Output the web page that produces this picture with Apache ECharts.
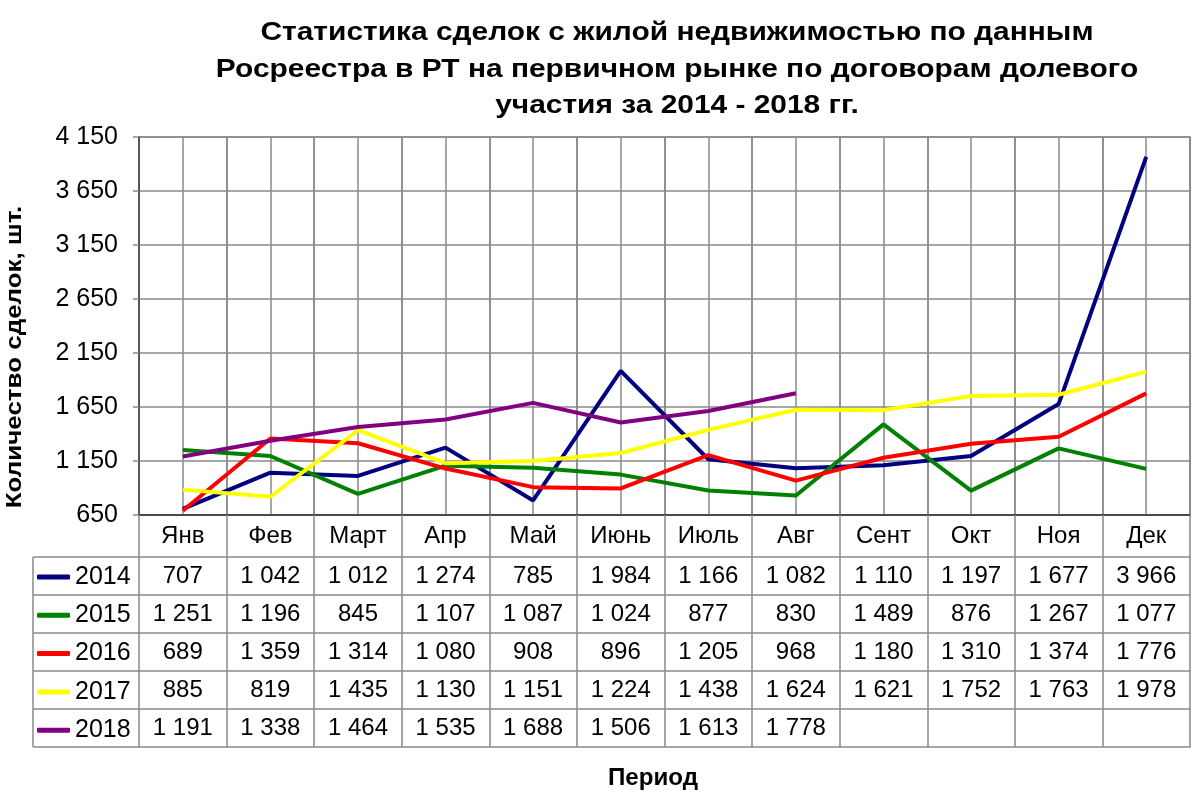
<!DOCTYPE html>
<html>
<head>
<meta charset="utf-8">
<script src="https://cdn.jsdelivr.net/npm/echarts@6/dist/echarts.min.js"></script>
<style>html,body{margin:0;padding:0;background:#fff}#c{width:1200px;height:803px}</style>
</head>
<body>
<div id="c"></div>
<script>
const months = ['Янв','Фев','Март','Апр','Май','Июнь','Июль','Авг','Сент','Окт','Ноя','Дек'];
const years = ['2014','2015','2016','2017','2018'];
const s2014 = [707,1042,1012,1274,785,1984,1166,1082,1110,1197,1677,3966];
const s2015 = [1251,1196,845,1107,1087,1024,877,830,1489,876,1267,1077];
const s2016 = [689,1359,1314,1080,908,896,1205,968,1180,1310,1374,1776];
const s2017 = [885,819,1435,1130,1151,1224,1438,1624,1621,1752,1763,1978];
const s2018 = [1191,1338,1464,1535,1688,1506,1613,1778];
const yMin = 650, yMax = 4150, yStep = 500;
const titleLines = ['Статистика сделок с жилой недвижимостью по данным','Росреестра в РТ на первичном рынке по договорам долевого','участия за 2014 - 2018 гг.'];
const yName = 'Количество сделок, шт.';
const xName = 'Период';
const colors = ['#000080','#008000','#ff0000','#ffff00','#800080'];
const allSeries = [s2014,s2015,s2016,s2017,s2018];

const FONT = 'Liberation Sans, Arial, sans-serif';
const fmt = v => (v === null || v === undefined || v === '') ? '' : String(v).replace(/\B(?=(\d{3})+(?!\d))/g, ' ');

const GRID = {left:139, right:10, top:137, bottom:288};
const HEAD_H = 42, ROW_H = 38;
const plotBottom = 803 - GRID.bottom;
const TABLE_LEFT = 33;
const gridColor = '#8a8a8a';
const GW = 1.5;

const xAxes = [];
xAxes.push({
  type:'category', data: months, position:'bottom', boundaryGap:true,
  axisLine:{show:true, lineStyle:{color:'#333', width:1.5}},
  axisTick:{show:true, length:HEAD_H, interval:0, lineStyle:{color:gridColor, width:GW}},
  axisLabel:{interval:0, margin:9, fontSize:24, color:'#000', fontFamily:FONT},
  splitLine:{show:true, interval:0, lineStyle:{color:gridColor, width:GW}}
});
allSeries.forEach((s, k) => {
  const row = months.map((m, i) => fmt(s[i]));
  xAxes.push({
    type:'category', data: row, position:'bottom', offset: HEAD_H + ROW_H*k, boundaryGap:true,
    axisLine:{show:true, lineStyle:{color:gridColor, width:GW}},
    axisTick:{show:true, length:ROW_H, interval:0, lineStyle:{color:gridColor, width:GW}},
    axisLabel:{interval:0, margin:7, fontSize:24, color:'#000', fontFamily:FONT},
    splitLine:{show:false}
  });
});
xAxes.push({
  type:'category', data: months.map(()=>''), position:'bottom', offset: HEAD_H + ROW_H*5, boundaryGap:true,
  axisLine:{show:true, lineStyle:{color:gridColor, width:GW}},
  axisTick:{show:false}, axisLabel:{show:false}, splitLine:{show:false}
});
// half-category gridlines
const halves = [];
months.forEach(m => { halves.push(m + 'a'); halves.push(m + 'b'); });
xAxes.push({
  type:'category', data: halves, position:'top', boundaryGap:true,
  axisLine:{show:false}, axisTick:{show:false}, axisLabel:{show:false, interval:0},
  splitLine:{show:true, interval:0, lineStyle:{color:gridColor, width:GW}}
});

const graphics = [];
for (let k = 0; k <= 5; k++) {
  const y = plotBottom + HEAD_H + ROW_H*k;
  graphics.push({type:'line', shape:{x1:TABLE_LEFT, y1:y, x2:GRID.left, y2:y}, style:{stroke:gridColor, lineWidth:GW}, silent:true});
}
graphics.push({type:'line', shape:{x1:TABLE_LEFT, y1:plotBottom+HEAD_H, x2:TABLE_LEFT, y2:plotBottom+HEAD_H+ROW_H*5}, style:{stroke:gridColor, lineWidth:GW}, silent:true});
graphics.push({type:'text', rotation:Math.PI/2, x:15, y:357, scaleX:1.18,
  style:{text:yName, font:'bold 22px ' + FONT, fill:'#000', align:'center', verticalAlign:'middle'}});
graphics.push({type:'text', x:653, y:779, scaleX:1.05,
  style:{text:xName, font:'bold 23px ' + FONT, fill:'#000', align:'center', verticalAlign:'middle'}});
titleLines.forEach((t, i) => {
  graphics.push({type:'text', x:677, y:33 + 36.5*i, scaleX:1.15,
    style:{text:t, font:'bold 26px ' + FONT, fill:'#000', align:'center', verticalAlign:'middle'}});
});

const chart = echarts.init(document.getElementById('c'));
chart.setOption({
  animation:false,
  backgroundColor:'#fff',
  legend:{
    orient:'vertical', left:37, top: plotBottom + HEAD_H + ROW_H/2 - 11.5, padding:0,
    itemGap: 13.3, itemWidth:33, itemHeight:5, icon:'roundRect',
    data: years,
    textStyle:{fontSize:25, color:'#000', fontFamily:FONT, lineHeight:24}
  },
  grid:{left:GRID.left, right:GRID.right, top:GRID.top, bottom:GRID.bottom, show:true, borderColor:gridColor, borderWidth:GW, containLabel:false},
  xAxis: xAxes,
  yAxis:{
    type:'value', min:yMin, max:yMax, interval:yStep,
    axisLine:{show:true, lineStyle:{color:'#444', width:1.5}},
    axisTick:{show:true, length:6, lineStyle:{color:gridColor, width:GW}},
    axisLabel:{margin:21, fontSize:25, color:'#000', fontFamily:FONT, formatter: v => fmt(v)},
    splitLine:{show:true, lineStyle:{color:gridColor, width:GW}}
  },
  series: years.map((y, k) => ({
    name:y, type:'line', xAxisIndex:0, yAxisIndex:0, data: allSeries[k],
    symbol:'none', lineStyle:{width:4, color:colors[k]}, itemStyle:{color:colors[k]}
  })),
  graphic: graphics
});
</script>
</body>
</html>
